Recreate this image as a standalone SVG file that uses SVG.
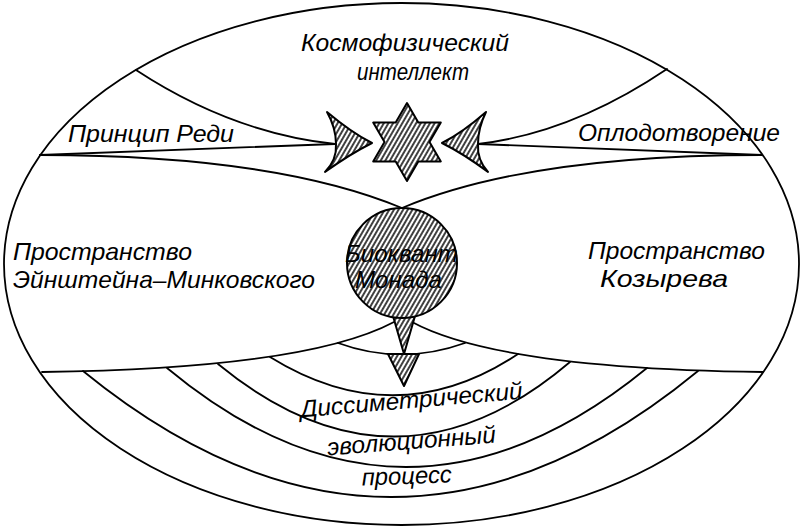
<svg xmlns="http://www.w3.org/2000/svg" width="802" height="528" viewBox="0 0 802 528">
<style>
.ln{fill:none;stroke:#000;stroke-width:1.8;stroke-linecap:round;stroke-linejoin:round}
.hs{fill:url(#hatch);stroke:#000;stroke-width:2;stroke-linejoin:round}
.t{font-family:"Liberation Sans",Arial,sans-serif;font-style:italic;font-size:24px;fill:#000}
</style>
<defs>
<pattern id="hatch" width="4" height="4" patternUnits="userSpaceOnUse" patternTransform="rotate(30)">
<rect width="4" height="4" fill="#fff"/>
<line x1="2" y1="-1" x2="2" y2="5" stroke="#000" stroke-width="1.5"/>
</pattern>
</defs>
<rect width="802" height="528" fill="#fff"/>
<g id="connectors">
<ellipse class="ln" cx="401.5" cy="264" rx="397.5" ry="261" stroke-width="2"/>
<path class="ln" d="M136,70 Q232,133 335,144"/>
<path class="ln" d="M667,69 Q572,133 478,144"/>
<path class="ln" d="M40,155 L335,144" stroke-width="2.2"/>
<path class="ln" d="M762,155 L478,144" stroke-width="2.2"/>
<path class="ln" d="M40,155 Q274,155 402,208"/>
<path class="ln" d="M762,155 Q528,155 402,208"/>
<path class="ln" d="M42,372 C200,370 330,356 394,322"/>
<path class="ln" d="M763,372 C605,370 475,356 412,322"/>
<path class="ln" d="M338,343 Q401,366 465,343"/>
<path class="ln" d="M270,357 Q396,435 518,354"/>
<path class="ln" d="M218,364 Q396,510 570,362"/>
<path class="ln" d="M167,368 Q405,566 647,368"/>
<path class="ln" d="M83,371 Q392,623 698,371"/>
</g>
<g id="cosmo">
<text class="t" x="405" y="51" text-anchor="middle" textLength="208" lengthAdjust="spacingAndGlyphs">Космофизический</text>
<text class="t" x="413" y="80" text-anchor="middle" textLength="112" lengthAdjust="spacingAndGlyphs">интеллект</text>
</g>
<g id="redi">
<text class="t" x="68" y="142" textLength="166" lengthAdjust="spacingAndGlyphs">Принцип Реди</text>
<path class="hs" d="M327,112 Q352,133 372,143 Q350,154 325,172 Q337,160 336,144 Q336,128 327,112 Z"/>
</g>
<g id="oplod">
<text class="t" x="578" y="141" textLength="202" lengthAdjust="spacingAndGlyphs">Оплодотворение</text>
<path class="hs" d="M486,112 Q462,133 442,143 Q464,154 488,172 Q477,160 478,144 Q478,128 486,112 Z"/>
</g>
<g id="star">
<path class="hs" d="M407,103 L418.3,122.5 L440.8,122.5 L429.5,142 L440.8,161.5 L418.3,161.5 L407,181 L395.7,161.5 L373.2,161.5 L384.5,142 L373.2,122.5 L395.7,122.5 Z"/>
</g>
<g id="space-left">
<text class="t" x="13" y="260" textLength="179" lengthAdjust="spacingAndGlyphs">Пространство</text>
<text class="t" x="13" y="288" textLength="302" lengthAdjust="spacingAndGlyphs">Эйнштейна–Минковского</text>
</g>
<g id="space-right">
<text class="t" x="588" y="259" textLength="177" lengthAdjust="spacingAndGlyphs">Пространство</text>
<text class="t" x="600" y="287" textLength="128" lengthAdjust="spacingAndGlyphs">Козырева</text>
</g>
<g id="monad">
<path class="hs" d="M393,316 L415,316 L404,354 Z"/>
<path class="hs" d="M388,354 L419,354 L404,386 Z"/>
<circle class="hs" cx="402" cy="263" r="55"/>
<text class="t" x="345" y="262" textLength="113" lengthAdjust="spacingAndGlyphs">Биоквант</text>
<text class="t" x="355" y="288" textLength="87" lengthAdjust="spacingAndGlyphs">Монада</text>
</g>
<g id="process">
<text class="t" x="412" y="408" text-anchor="middle" textLength="223" lengthAdjust="spacingAndGlyphs" transform="rotate(-4.8 412 408)">Диссиметрический</text>
<text class="t" x="412" y="449" text-anchor="middle" textLength="169" lengthAdjust="spacingAndGlyphs" transform="rotate(-4.4 412 449)">эволюционный</text>
<text class="t" x="407" y="484" text-anchor="middle" textLength="90" lengthAdjust="spacingAndGlyphs" transform="rotate(-2 407 484)">процесс</text>
</g>
</svg>
